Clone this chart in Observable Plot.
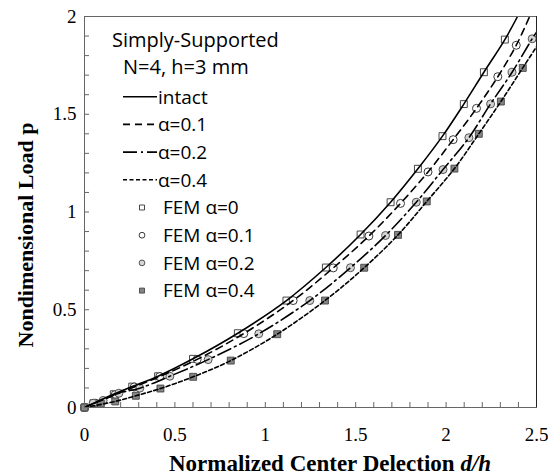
<!DOCTYPE html>
<html>
<head>
<meta charset="utf-8">
<script src="https://cdn.jsdelivr.net/npm/d3@7"></script>
<script src="https://cdn.jsdelivr.net/npm/@observablehq/plot@0.6"></script>
<style>
  html, body { margin: 0; padding: 0; background: #fff; }
  #chart svg { display: block; }
</style>
</head>
<body>
<div id="chart"></div>
<script>
// ---- data ----
const xTicks = [0, 0.5, 1, 1.5, 2, 2.5];
const yTicks = [0, 0.5, 1, 1.5, 2];
const xMinor = d3.range(0, 26).map(i => i / 10);
const yMinor = d3.range(0, 21).map(i => i / 10);

// analytical curves (d/h, p)
const intactD = [0, 0.16, 0.264, 0.407, 0.600, 0.848, 1.117, 1.335, 1.527, 1.693, 1.844, 1.980, 2.098, 2.209, 2.325, 2.395];
const intactP = [0, 0.068, 0.107, 0.160, 0.249, 0.380, 0.547, 0.716, 0.885, 1.050, 1.221, 1.388, 1.552, 1.715, 1.882, 2.0];
const a01D = [0, 0.17, 0.275, 0.416, 0.623, 0.881, 1.154, 1.376, 1.573, 1.748, 1.900, 2.039, 2.168, 2.286, 2.388, 2.462];
const a01P = [0, 0.066, 0.105, 0.158, 0.246, 0.378, 0.547, 0.714, 0.877, 1.044, 1.205, 1.370, 1.530, 1.692, 1.853, 2.0];
const a02D = [0, 0.19, 0.306, 0.472, 0.684, 0.964, 1.246, 1.471, 1.665, 1.835, 1.983, 2.126, 2.246, 2.365, 2.476, 2.5];
const a02P = [0, 0.073, 0.099, 0.160, 0.245, 0.377, 0.547, 0.715, 0.880, 1.050, 1.217, 1.380, 1.553, 1.715, 1.886, 1.92];
const a04D = [0, 0.17, 0.284, 0.420, 0.601, 0.809, 1.066, 1.330, 1.547, 1.734, 1.893, 2.046, 2.181, 2.303, 2.424, 2.5];
const a04P = [0, 0.031, 0.060, 0.097, 0.157, 0.240, 0.375, 0.547, 0.715, 0.883, 1.054, 1.222, 1.400, 1.565, 1.737, 1.845];

// FEM results
const fem0D = [0, 0.05, 0.162, 0.264, 0.407, 0.600, 0.848, 1.117, 1.335, 1.527, 1.693, 1.844, 1.980, 2.098, 2.209, 2.325];
const fem0P = [0, 0.022, 0.068, 0.107, 0.160, 0.249, 0.380, 0.547, 0.716, 0.885, 1.050, 1.221, 1.388, 1.552, 1.715, 1.882];
const fem01D = [0, 0.06, 0.17, 0.275, 0.416, 0.623, 0.881, 1.154, 1.376, 1.573, 1.748, 1.900, 2.039, 2.168, 2.286, 2.388];
const fem01P = [0, 0.022, 0.066, 0.105, 0.158, 0.246, 0.378, 0.547, 0.714, 0.877, 1.044, 1.205, 1.370, 1.530, 1.692, 1.853];
const fem02D = [0, 0.048, 0.103, 0.19, 0.306, 0.472, 0.684, 0.964, 1.246, 1.471, 1.665, 1.835, 1.983, 2.126, 2.246, 2.365, 2.476];
const fem02P = [0, 0.022, 0.036, 0.073, 0.099, 0.160, 0.245, 0.377, 0.547, 0.715, 0.880, 1.050, 1.217, 1.380, 1.553, 1.715, 1.886];
const fem04D = [0, 0.09, 0.17, 0.284, 0.420, 0.601, 0.809, 1.066, 1.330, 1.547, 1.734, 1.893, 2.046, 2.181, 2.303, 2.424];
const fem04P = [0, 0.020, 0.031, 0.060, 0.097, 0.157, 0.240, 0.375, 0.547, 0.715, 0.883, 1.054, 1.222, 1.400, 1.565, 1.737];

const legendTitle = ["Simply-Supported", "N=4, h=3 mm"];
const lineLabels = ["intact", "α=0.1", "α=0.2", "α=0.4"];
const femLabels = ["FEM α=0", "FEM α=0.1", "FEM α=0.2", "FEM α=0.4"];

// ---- build tables ----
const zip = (D, P) => D.map((d, i) => ({d, p: P[i]}));
const lines = [
  {data: zip(intactD, intactP), dash: null},
  {data: zip(a01D, a01P), dash: "7,5"},
  {data: zip(a02D, a02P), dash: "14,4,2,4"},
  {data: zip(a04D, a04P), dash: "4,2.5"}
];
const fems = [
  {data: zip(fem0D, fem0P), symbol: "square", fill: "#ffffff", stroke: "#333", r: 3.9},
  {data: zip(fem01D, fem01P), symbol: "circle", fill: "#ffffff", stroke: "#222", r: 4},
  {data: zip(fem02D, fem02P), symbol: "circle", fill: "#d4d4d4", stroke: "#444", r: 4},
  {data: zip(fem04D, fem04P), symbol: "square", fill: "#858585", stroke: "#444", r: 3.9}
];

const W = 548, H = 475, ML = 84, MR = 12, MT = 16, MB = 68;
const serif = "'Liberation Serif', 'Times New Roman', serif";
const sans = "'Open Sans', 'Noto Sans', sans-serif";

const plot = Plot.plot({
  width: W, height: H,
  marginLeft: ML, marginRight: MR, marginTop: MT, marginBottom: MB,
  style: {fontFamily: serif, background: "#fff", color: "#000"},
  x: {domain: [0, 2.5]},
  y: {domain: [0, 2]},
  marks: [
    Plot.tickX(xMinor, {x: d => d, insetTop: H - MT - MB - 5, stroke: "#666", strokeWidth: 1}),
    Plot.tickY(yMinor, {y: d => d, insetRight: W - ML - MR - 5, stroke: "#666", strokeWidth: 1}),
    ...fems.map(f => Plot.dot(f.data, {x: "d", y: "p", symbol: f.symbol, r: f.r, fill: f.fill, stroke: f.stroke, strokeWidth: 0.9})),
    ...lines.map(l => Plot.line(l.data, {x: "d", y: "p", curve: "catmull-rom", stroke: "#000", strokeWidth: 1.6, strokeDasharray: l.dash, clip: true})),
    Plot.frame({stroke: "#666", strokeWidth: 1}),
    Plot.ruleX([2.5], {stroke: "#222", strokeWidth: 1}),
    Plot.axisX({ticks: xTicks, tickSize: 0, tickPadding: 20, fontSize: 19, fontFamily: serif, tickFormat: d => String(d), label: null}),
    Plot.axisY({ticks: yTicks, tickSize: 0, tickPadding: 8, fontSize: 19, fontFamily: serif, tickFormat: d => String(d), label: null})
  ]
});

document.getElementById("chart").appendChild(plot);

// ---- axis titles and legend ----
const svg = d3.select(plot);
svg.append("text")
  .attr("transform", "translate(33,235) rotate(-90)")
  .attr("text-anchor", "middle")
  .attr("font-family", serif).attr("font-weight", "bold").attr("font-size", 22)
  .attr("fill", "#000")
  .text("Nondimensional Load p");

const xt = svg.append("text")
  .attr("x", 330).attr("y", 471)
  .attr("text-anchor", "middle")
  .attr("font-family", serif).attr("font-weight", "bold").attr("font-size", 23)
  .attr("fill", "#000");
xt.append("tspan").text("Normalized Center Delection ");
xt.append("tspan").attr("font-style", "italic").text("d/h");

const lg = svg.append("g").attr("font-family", sans).attr("font-size", 19)
  .attr("fill", "#000").attr("text-anchor", "start");
lg.append("text").attr("x", 112).attr("y", 47).attr("font-size", 20).text(legendTitle[0]);
lg.append("text").attr("x", 123).attr("y", 74).attr("font-size", 20).text(legendTitle[1]);
const rowY = [96.7, 124.4, 152.1, 179.8, 207.5, 235.2, 262.9, 290.6];
lineLabels.forEach((t, i) => {
  const y = rowY[i];
  lg.append("line").attr("x1", 123).attr("x2", 157).attr("y1", y).attr("y2", y)
    .attr("stroke", "#000").attr("stroke-width", 1.6)
    .attr("stroke-dasharray", lines[i].dash);
  lg.append("text").attr("x", 158).attr("y", y).attr("dy", "0.36em").text(t);
});
femLabels.forEach((t, i) => {
  const y = rowY[4 + i];
  const f = fems[i];
  const lr = f.r * 0.72;
  const sym = d3.symbol(f.symbol === "square" ? d3.symbolSquare : d3.symbolCircle, Math.PI * lr * lr);
  lg.append("path").attr("d", sym()).attr("transform", `translate(142,${y})`)
    .attr("fill", f.fill).attr("stroke", f.stroke).attr("stroke-width", 0.9);
  lg.append("text").attr("x", 163).attr("y", y).attr("dy", "0.36em").text(t);
});
</script>
</body>
</html>
